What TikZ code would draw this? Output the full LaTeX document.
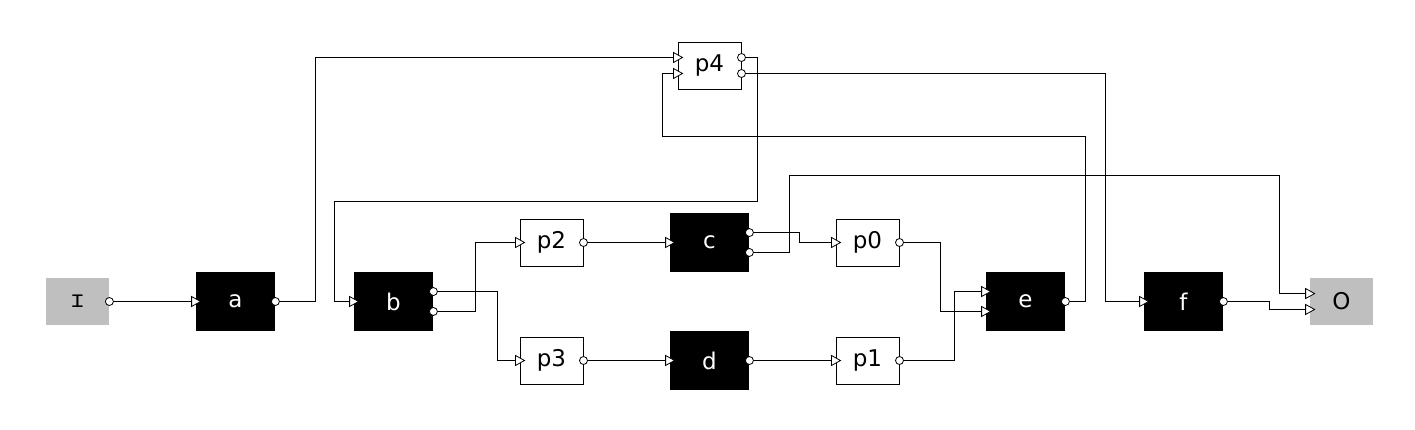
\documentclass[tikz,border=0pt]{standalone}
\usepackage{fontspec}
\setmainfont{DejaVu Sans}
\setmonofont{DejaVu Sans Mono}
\usetikzlibrary{calc}

\tikzset{
 blk/.style={fill=black, text=white, minimum width=39.5pt, minimum height=29.5pt, inner sep=0pt},
 prc/.style={draw=black, fill=white, line width=.5pt, minimum width=31.5pt, minimum height=23.5pt, inner sep=0pt},
 io/.style={fill=black!25, minimum width=31.5pt, minimum height=23.5pt, inner sep=0pt},
 wire/.style={draw=black, line width=.5pt},
 inport/.style={draw=black, fill=white, line width=.4pt},
 outport/.style={draw=black, fill=white, line width=.4pt}
}

\begin{document}
\begin{tikzpicture}[x=.5pt, y=-.5pt, font=\fontsize{11.5}{13}\selectfont]
\useasboundingbox (0,0) rectangle (1415,429);
\node[io]  (I)  at (77.5,301.5)   {\ttfamily ɪ};
\node[blk] (a)  at (235.5,301.5)  {a};
\node[blk] (b)  at (393.5,301.5)  {b};
\node[prc] (p2) at (551.5,242.5)  {p2};
\node[prc] (p3) at (551.5,360.5)  {p3};
\node[blk] (c)  at (709.5,242.5)  {c};
\node[blk] (d)  at (709.5,360.5)  {d};
\node[prc] (p0) at (867.5,242.5)  {p0};
\node[prc] (p1) at (867.5,360.5)  {p1};
\node[blk] (e)  at (1025.5,301.5) {e};
\node[blk] (f)  at (1183.5,301.5) {f};
\node[io]  (O)  at (1341.5,301.5) {O};
\node[prc] (p4) at (709.5,65.5)   {p4};
% ports
\foreach \n in {I,a,d,e,f,p0,p1,p2,p3}
 \coordinate (\n-o) at (\n.east);
\foreach \n in {a,b,c,d,f,p0,p1,p2,p3}
 \coordinate (\n-i) at (\n.west);
\foreach \n in {b,c,p4} {
 \coordinate (\n-o1) at ($(\n.north east)!1/3!(\n.south east)$);
 \coordinate (\n-o2) at ($(\n.north east)!2/3!(\n.south east)$);
}
\foreach \n in {e,p4,O} {
 \coordinate (\n-i1) at ($(\n.north west)!1/3!(\n.south west)$);
 \coordinate (\n-i2) at ($(\n.north west)!2/3!(\n.south west)$);
}
% wires
\draw[wire] (I-o) -- (a-i);
\draw[wire] (a-o) -- ++(40,0) |- (p4-i1);
\draw[wire] (p4-o1) -- ++(16,0) |- (334,201) |- (b-i);
\draw[wire] (b-o1) -- ++(64,0) |- (p3-i);
\draw[wire] (b-o2) -- ++(42,0) |- (p2-i);
\draw[wire] (p2-o) -- (c-i);
\draw[wire] (p3-o) -- (d-i);
\draw[wire] (c-o1) -- ++(50,0) |- (p0-i);
\draw[wire] (c-o2) -- ++(40,0) |- (1279,175) |- (O-i1);
\draw[wire] (d-o) -- (p1-i);
\draw[wire] (p0-o) -- ++(41,0) |- (e-i2);
\draw[wire] (p1-o) -- ++(55,0) |- (e-i1);
\draw[wire] (e-o) -- ++(20,0) |- (662,136) |- (p4-i2);
\draw[wire] (p4-o2) -- ++(364,0) |- (f-i);
\draw[wire] (f-o) -- ++(46,0) |- (O-i2);
\foreach \p in {a-i,b-i,c-i,d-i,e-i1,e-i2,f-i,p0-i,p1-i,p2-i,p3-i,p4-i1,p4-i2,O-i1,O-i2}
 \draw[inport] (\p) ++(-4,-5) -- ++(9,5) -- ++(-9,5) -- cycle;
\foreach \p in {I-o,a-o,b-o1,b-o2,c-o1,c-o2,d-o,e-o,f-o,p0-o,p1-o,p2-o,p3-o,p4-o1,p4-o2}
 \draw[outport] (\p) circle (2pt);
\end{tikzpicture}
\end{document}
